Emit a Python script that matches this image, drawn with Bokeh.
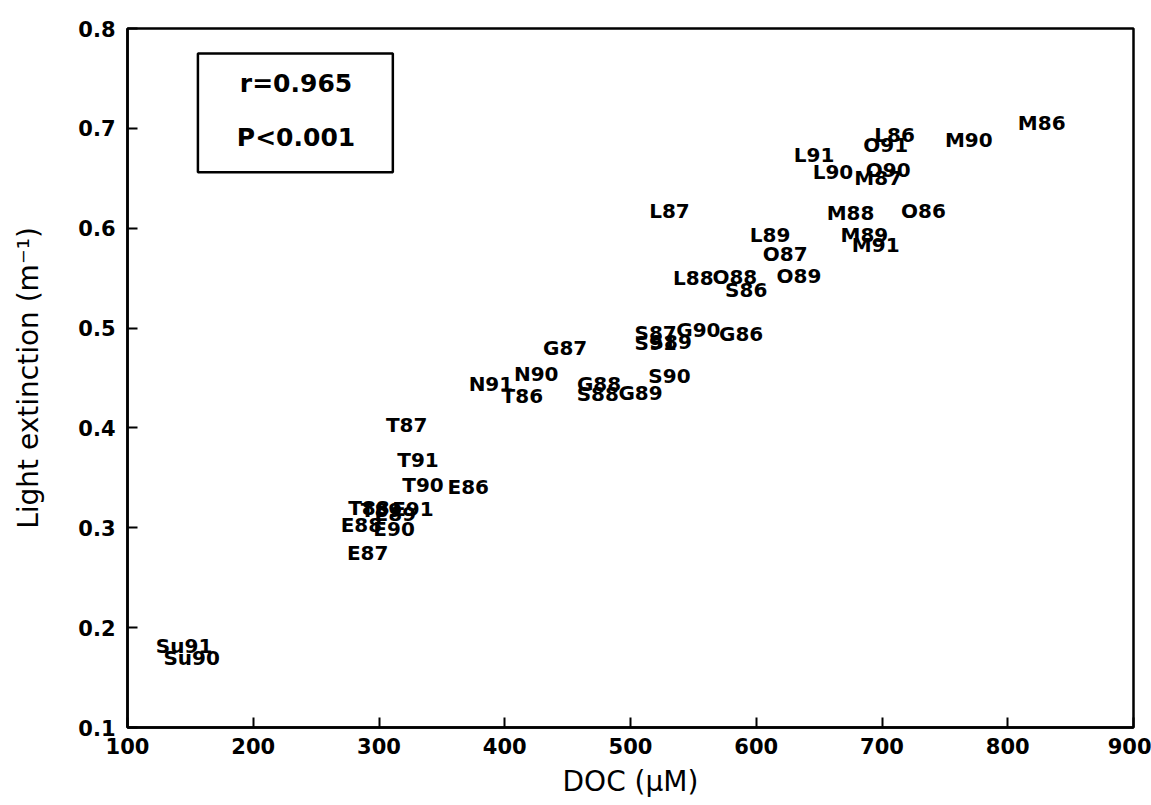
from bokeh.plotting import figure
from bokeh.models import ColumnDataSource, Range1d, FixedTicker, BoxAnnotation, Label
from bokeh.core.properties import value
from bokeh.embed import file_html
from bokeh.resources import INLINE

# Site/year labels, DOC (uM) and light extinction (m^-1)
labels = ["M86", "M90", "L86", "O91", "L91", "L90", "O90", "M87", "L87", "M88",
          "O86", "L89", "M89", "M91", "O87", "L88", "O88", "O89", "S86", "G87",
          "S87", "S89", "S91", "G90", "G86", "N90", "N91", "T86", "G88", "S88",
          "G89", "S90", "T87", "T91", "T90", "E86", "T88", "T89", "E89", "E91",
          "E88", "E90", "E87", "Su91", "Su90"]
doc = [827, 769, 710, 703, 646, 661, 705, 697, 531, 675,
       733, 611, 686, 695, 623, 550, 583, 634, 592, 448,
       520, 532, 520, 554, 588, 425, 389, 414, 475, 474,
       508, 531, 322, 331, 335, 371, 292, 302, 313, 327,
       286, 312, 291, 145, 151]
extinction = [0.705, 0.688, 0.693, 0.683, 0.673, 0.656, 0.658, 0.650, 0.617, 0.615,
              0.617, 0.593, 0.593, 0.583, 0.574, 0.550, 0.551, 0.552, 0.538, 0.480,
              0.495, 0.486, 0.485, 0.498, 0.494, 0.454, 0.444, 0.432, 0.444, 0.434,
              0.435, 0.452, 0.403, 0.368, 0.343, 0.341, 0.320, 0.318, 0.314, 0.319,
              0.303, 0.299, 0.275, 0.182, 0.170]

x_ticks = [100, 200, 300, 400, 500, 600, 700, 800, 900]
y_ticks = [0.1, 0.2, 0.3, 0.4, 0.5, 0.6, 0.7, 0.8]
stats_lines = ["r=0.965", "P<0.001"]

src = ColumnDataSource(dict(x=doc, y=extinction, t=labels))

p = figure(width=1151, height=805, output_backend="svg", toolbar_location=None,
           x_range=Range1d(100, 900), y_range=Range1d(0.1, 0.8),
           min_border_left=127, min_border_right=18, min_border_top=28, min_border_bottom=78)
p.background_fill_color = "white"
p.border_fill_color = "white"
p.grid.visible = False
p.outline_line_color = "black"
p.outline_line_width = 2.5
p.outline_line_alpha = 1.0

p.xaxis.ticker = FixedTicker(ticks=x_ticks)
p.yaxis.ticker = FixedTicker(ticks=y_ticks)
for ax in (p.xaxis[0], p.yaxis[0]):
    ax.axis_line_color = "black"
    ax.axis_line_width = 2.5
    ax.major_tick_in = 10
    ax.major_tick_out = 0
    ax.major_tick_line_width = 2
    ax.minor_tick_in = 0
    ax.minor_tick_out = 0
    ax.major_label_text_font = "DejaVu Sans"
    ax.major_label_text_font_style = "bold"
    ax.major_label_text_font_size = "21px"
    ax.major_label_text_color = "black"
    ax.axis_label_text_font = "DejaVu Sans"
    ax.axis_label_text_font_style = "normal"
    ax.axis_label_text_font_size = "28px"
    ax.axis_label_text_color = "black"

p.xaxis.major_label_standoff = 10
p.yaxis.major_label_standoff = 12
p.xaxis.axis_label = "DOC (μM)"
p.yaxis.axis_label = "Light extinction (m⁻¹)"
p.xaxis.axis_label_standoff = 8
p.yaxis.axis_label_standoff = 30

p.text(x="x", y="y", text="t", source=src, text_align="center", text_baseline="middle",
       text_font=value("DejaVu Sans"), text_font_style="bold", text_font_size="20px",
       text_color="black")

box = BoxAnnotation(left=156, right=311, bottom=0.656, top=0.775,
                    fill_color=None, fill_alpha=0, line_color="black", line_alpha=1.0,
                    line_width=2.5)
p.add_layout(box)
for txt, yy in zip(stats_lines, [0.745, 0.691]):
    p.add_layout(Label(x=234, y=yy, text=txt, text_align="center", text_baseline="middle",
                       text_font="DejaVu Sans", text_font_style="bold",
                       text_font_size="25px", text_color="black"))

open("out.html", "w").write(file_html(p, INLINE))
